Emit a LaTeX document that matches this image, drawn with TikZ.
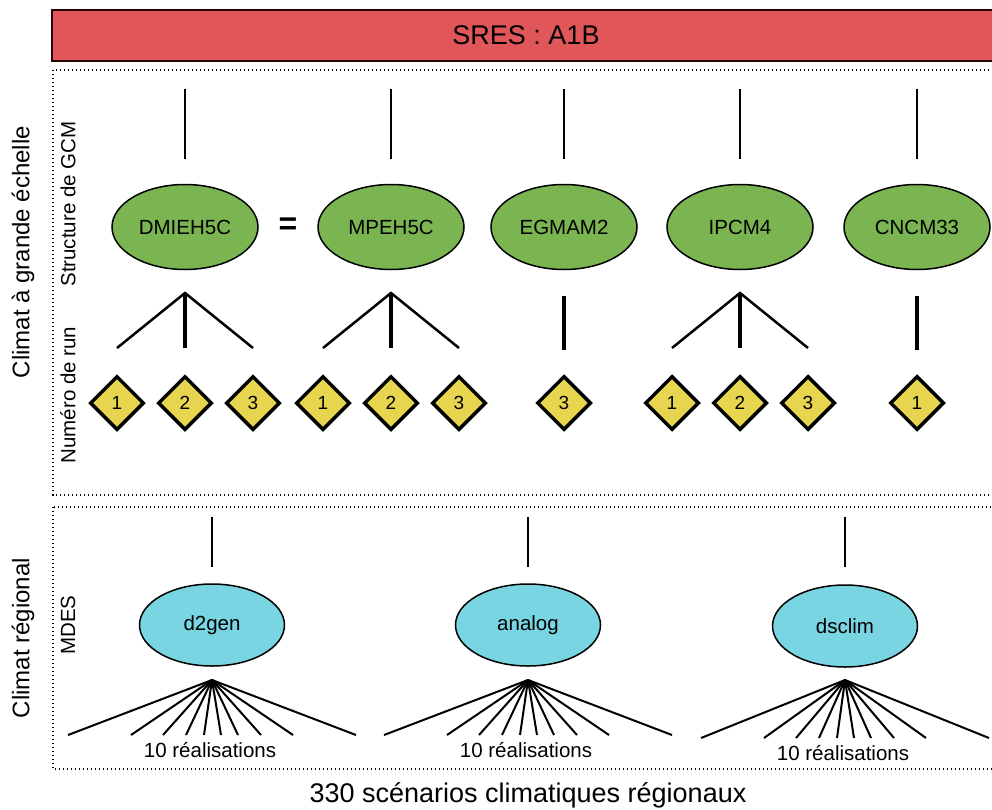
\documentclass[tikz,border=0pt]{standalone}
\usepackage{fontspec}
\setmainfont{Liberation Sans}
\usetikzlibrary{shapes.geometric}

\definecolor{sresred}{HTML}{E05659}
\definecolor{gcmgreen}{HTML}{7AB552}
\definecolor{mdesblue}{HTML}{79D5E2}
\definecolor{runyellow}{HTML}{E8D54F}

\tikzset{
  gcm/.style={ellipse,draw=black,line width=1.5pt,fill=gcmgreen,minimum width=146pt,minimum height=85pt,inner sep=0pt,font=\fontsize{20.5}{24}\selectfont},
  mdes/.style={ellipse,draw=black,line width=1.5pt,fill=mdesblue,minimum width=145pt,minimum height=82pt,inner sep=0pt,font=\fontsize{20.5}{24}\selectfont},
  run/.style={diamond,draw=black,line width=3.5pt,fill=runyellow,minimum width=54pt,minimum height=54pt,inner sep=0pt,font=\fontsize{19}{22}\selectfont},
  stem/.style={line width=2pt},
  branch/.style={line width=2.5pt},
  trunk/.style={line width=4pt},
  realis/.style={line width=2pt},
  zone/.style={line width=1.4pt,dash pattern=on 1.4pt off 2.6pt},
  sidelabel/.style={rotate=90,font=\fontsize{20.5}{24}\selectfont},
  biglabel/.style={rotate=90,font=\fontsize{24}{28}\selectfont}
}

\begin{document}
\begin{tikzpicture}[x=1pt,y=-1pt]

% Frame of the picture
\clip (0,0) rectangle (992,809);

% Draw the scenario bar
\node[draw=black!85!red,line width=2pt,fill=sresred,minimum width=948pt,minimum height=51pt,inner sep=0pt,font=\fontsize{27}{30}\selectfont] (sres) at (526,35.5) {SRES : A1B};

% Draw the two zones
\draw[zone] (53,70) rectangle (1000,495);
\draw[zone] (53,507) rectangle (1000,769);

% Labels for the zones
\node[biglabel] (large) at (23,252) {Climat à grande échelle};
\node[sidelabel] (struct) at (68,204) {Structure de GCM};
\node[sidelabel] (numrun) at (68,395) {Numéro de run};
\node[biglabel] (regional) at (23,638) {Climat régional};
\node[sidelabel] (mdeslab) at (68,625) {MDES};

% GCM structures
\node[gcm] (dmi) at (185,227) {DMIEH5C};
\node[gcm] (mpe) at (391,227) {MPEH5C};
\node[gcm] (egm) at (564,227) {EGMAM2};
\node[gcm] (ipc) at (740,227) {IPCM4};
\node[gcm] (cnc) at (917,227) {CNCM33};
\node[font=\fontsize{32}{32}\selectfont\bfseries] (same) at (288,226) {=};

\foreach \name/\x in {dmi/185,mpe/391,egm/564,ipc/740,cnc/917} {
  \coordinate (\name-top) at (\x,89);
  \coordinate (\name-bot) at (\x,159);
  \draw[stem] (\name-top) -- (\name-bot);
}

% Runs with three members
\foreach \name/\x in {dmi/185,mpe/391,ipc/740} {
  \coordinate (\name-apex) at (\x,293);
  \coordinate (\name-left) at (\x-68,348);
  \coordinate (\name-mid) at (\x,348);
  \coordinate (\name-right) at (\x+68,348);
  \draw[branch] (\name-left) -- (\name-apex) -- (\name-right);
  \draw[trunk] (\name-apex) -- (\name-mid);
  \node[run] (\name-r1) at (\x-68,403) {1};
  \node[run] (\name-r2) at (\x,403) {2};
  \node[run] (\name-r3) at (\x+68,403) {3};
}

% Runs with one member
\foreach \name/\x/\n in {egm/564/3,cnc/917/1} {
  \coordinate (\name-apex) at (\x,296);
  \coordinate (\name-mid) at (\x,350);
  \draw[trunk] (\name-apex) -- (\name-mid);
  \node[run] (\name-r\n) at (\x,403) {\n};
}

% Downscaling methods
\node[mdes] (d2g) at (212,625) {d2gen};
\node[mdes] (ana) at (528,625) {analog};
\node[mdes] (dsc) at (845,626) {dsclim};

\foreach \name/\x/\yy in {d2g/212/735,ana/528/735,dsc/845/738} {
  \coordinate (\name-top) at (\x,517);
  \coordinate (\name-bot) at (\x,567);
  \draw[stem] (\name-top) -- (\name-bot);
  \coordinate (\name-apex) at (\x,680);
  \foreach \dx in {-144,-81,-49,-26,-8,9,26,49,81,144} {
    \coordinate (\name-end) at (\x+\dx,\yy);
    \draw[realis] (\name-apex) -- (\name-end);
  }
  \node[font=\fontsize{20.5}{24}\selectfont] (\name-lab) at (\x-2,\yy+15) {10 réalisations};
}

% Total
\node[font=\fontsize{27}{30}\selectfont] (total) at (528,795) {330 scénarios climatiques régionaux};

\end{tikzpicture}
\end{document}
